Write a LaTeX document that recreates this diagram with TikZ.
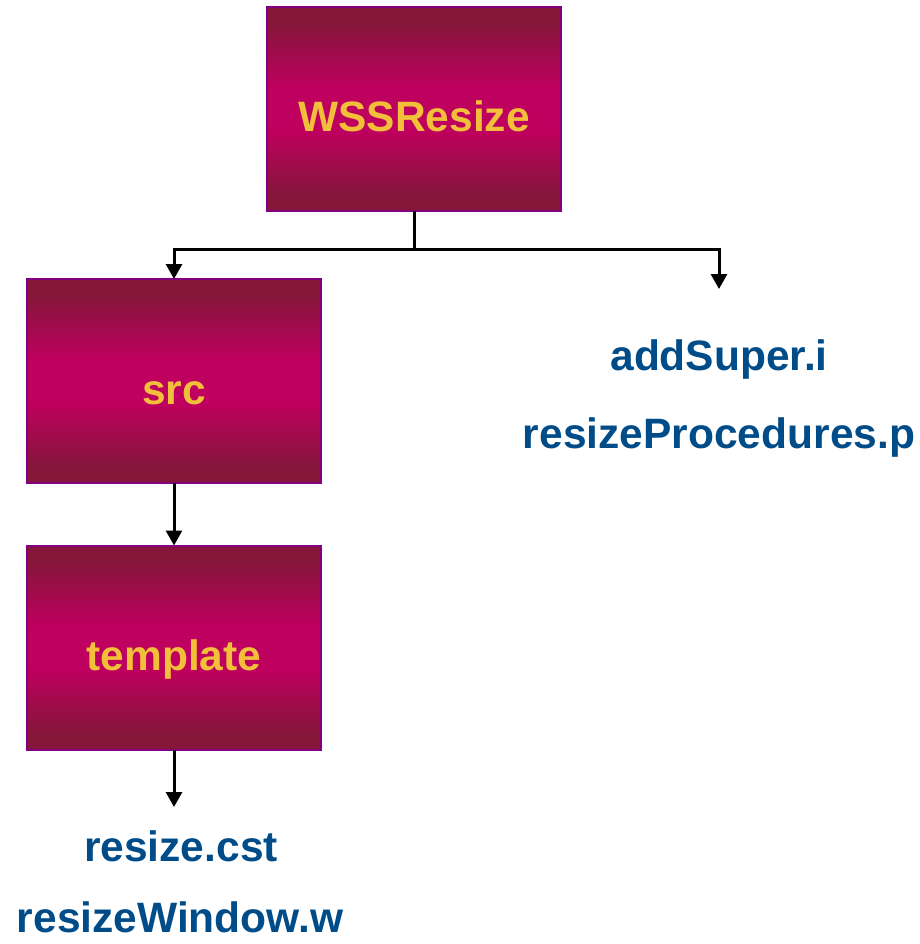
\documentclass[tikz,border=0pt]{standalone}
\usepackage{fontspec}
\setmainfont{Liberation Sans}
\usetikzlibrary{arrows.meta}
\definecolor{boxedge}{HTML}{85163A}
\definecolor{boxmid}{HTML}{BE005E}
\definecolor{boxline}{HTML}{800080}
\definecolor{lbl}{HTML}{F2BF3A}
\definecolor{fileblue}{HTML}{004C88}
\pgfdeclareverticalshading{boxshade}{100bp}{%
  color(0bp)=(boxedge); color(29bp)=(boxedge); color(44.5bp)=(boxmid);
  color(55.5bp)=(boxmid); color(71bp)=(boxedge); color(100bp)=(boxedge)}
\tikzset{
  box/.style={rectangle, draw=boxline, line width=2pt, inner sep=0pt, outer sep=0pt,
    minimum width=294pt, minimum height=204pt,
    shading=boxshade,
    text=lbl, font=\fontsize{42.5}{50}\selectfont\bfseries,
    text height=46pt, text depth=0pt},
  file/.style={text=fileblue, font=\fontsize{42.5}{50}\selectfont\bfseries, anchor=base, inner sep=0pt},
  conn/.style={draw=black, line width=3pt},
  arr/.style={conn, -{Triangle[length=15pt,width=16pt]}}
}
\begin{document}
\begin{tikzpicture}[x=1pt,y=-1pt]
\useasboundingbox (0,0) rectangle (919,944);
\node[box] (top) at (414,109) {WSSResize};
\node[box] (src) at (174,381) {src};
\node[box] (tpl) at (174,647.5) {template};
\coordinate (j) at (414,249);
\coordinate (rt) at (719,289);
\coordinate (bt) at (174,807);
\draw[conn] (top.south) -- (j);
\draw[arr] (j) -| (src.north);
\draw[arr] (j) -| (rt);
\draw[arr] (src.south) -- (tpl.north);
\draw[arr] (tpl.south) -- (bt);
\node[file] (f1) at (719,370) {addSuper.i};
\node[file] (f2) at (719,448) {resizeProcedures.p};
\node[file] (f3) at (181,861) {resize.cst};
\node[file] (f4) at (180,932) {resizeWindow.w};
\end{tikzpicture}
\end{document}
